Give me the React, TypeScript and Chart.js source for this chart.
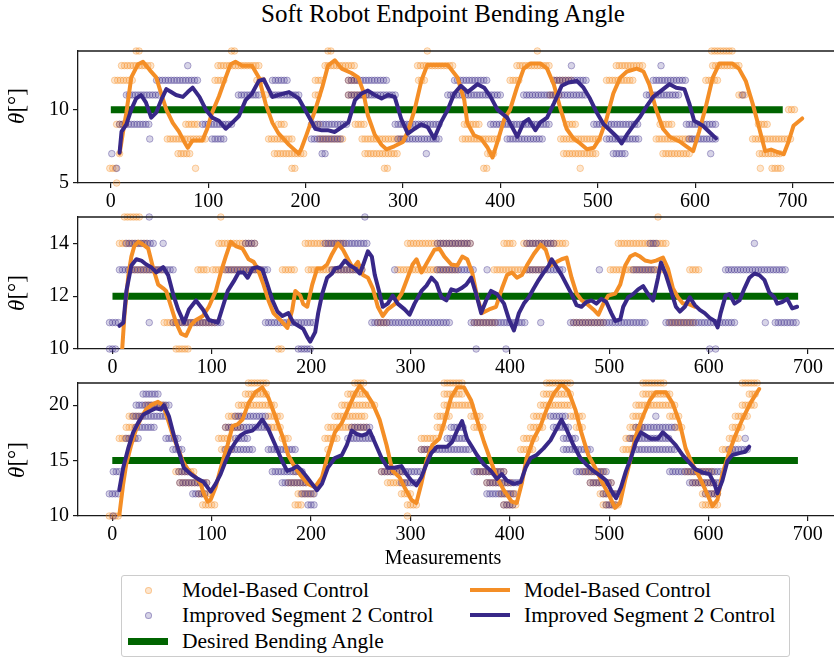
import React, { useEffect, useRef } from "react";
import { Chart, registerables } from "chart.js";

Chart.register(...registerables);

type Pt = [number, number];
type Run = [number, number, number]; // [level, xStart, xEnd] run of dots at an integer level

const FONT = '"Liberation Serif", serif';
Chart.defaults.font.family = FONT;

const TITLE = "Soft Robot Endpoint Bending Angle";
const X_LABEL = "Measurements";
const X_TICKS = [0, 100, 200, 300, 400, 500, 600, 700];
const S1_Y_TICKS = [5, 10];
const S2_Y_TICKS = [10, 12, 14];
const S3_Y_TICKS = [10, 15, 20];
const TARGETS = [10, 12, 15];
const TARGET_SPAN = [0, 690];
const LEGEND_LABELS = [
  "Model-Based Control",
  "Improved Segment 2 Control",
  "Desired Bending Angle",
  "Model-Based Control",
  "Improved Segment 2 Control",
];

// ---------- Subplot 1 ----------
const S1_MODEL_LINE: Pt[] = [
  [9, 7], [12.6, 8.5], [16, 9.8], [21, 12.2], [28, 13.1], [33, 13.26], [40, 12.7], [46.6, 12.2],
  [51.7, 11.1], [57, 10], [63.6, 9.1], [70, 8.5], [75.5, 7.8], [79, 7.4], [84, 7.9], [94, 7.9],
  [99, 8.7], [104, 9.8], [111, 10.9], [118, 12.2], [123, 13.1], [128, 13.26], [135, 13.0], [145, 13.0],
  [152, 12.2], [159, 10.4], [166, 9.1], [172, 8.4], [183, 7.6], [193, 7.0], [196, 7.4], [201, 8.3],
  [210, 10], [217, 11.5], [223, 13.0], [230, 13.37], [237, 12.8], [247, 12.5], [254, 12.2], [259, 11.3],
  [264, 9.6], [271, 8.3], [278, 7.6], [283, 7.3], [291, 7.5], [300, 7.8], [305, 8.5], [312, 10],
  [319, 12], [325, 13.04], [339, 13.04], [346, 13.04], [356, 12.2], [363, 10.65], [366, 9.1], [373, 8.26],
  [380, 8.04], [387, 7.4], [392, 6.74], [397, 7.8], [404, 9.35], [410, 10], [417, 11.5], [424, 12.8],
  [431, 13.15], [441, 13.15], [448, 12.8], [455, 11.7], [462, 10], [468, 8.7], [475, 8.04], [482, 7.7],
  [489, 7.3], [496, 7.4], [502, 8.04], [509, 9.35], [516, 11.1], [523, 12.17], [530, 12.6], [540, 12.8],
  [547, 12.6], [553, 11.7], [560, 10], [567, 8.7], [574, 8.15], [584, 7.83], [591, 7.5], [598, 7.17],
  [604, 8.48], [611, 10.2], [618, 12.17], [625, 13.15], [638, 13.15], [645, 12.8], [652, 11.96], [659, 10.43],
  [666, 8.7], [672, 7.17], [678, 7.28], [686, 7.07], [691, 6.96], [696, 7.83], [701, 8.9], [710, 9.4],
];
const S1_IMPROVED_LINE: Pt[] = [
  [9, 7.07], [11, 8.5], [16, 9.0], [21, 10], [26, 10.76], [31, 11], [36, 10.5], [41.5, 9.46],
  [46.6, 9.8], [51.7, 10.65], [57, 11.4], [62, 11.2], [67, 11], [74, 10.87], [79, 11.2], [84, 11.5],
  [91, 10.87], [97.6, 10], [104, 9.46], [111, 9.24], [118, 8.7], [123, 9], [131.6, 9.57], [138.4, 10.65],
  [145, 11.1], [152, 11.96], [157, 12.07], [166, 10.87], [172, 11], [183, 11.2], [193, 10.76], [203, 9.57],
  [210, 8.7], [216.7, 8.59], [223.5, 8.59], [230, 8.48], [237, 8.8], [244, 9.13], [250.7, 10.65], [257.5, 11.1],
  [264, 11.3], [271, 11], [278, 10.76], [284.7, 11], [291.5, 10.87], [298.3, 9.35], [305, 8.37], [312, 8.7],
  [318.7, 9], [325.5, 8.8], [332, 8.04], [339, 9.13], [346, 10], [352.7, 11.1], [359.5, 11.63], [366.4, 11.2],
  [376.6, 11.74], [383.4, 11.5], [390, 10.87], [397, 10], [407, 9.46], [417.4, 8.15], [424, 9.13], [429, 9.35],
  [436, 8.6], [441, 9.13], [448, 9.46], [455, 10.43], [463, 11.63], [470, 11.85], [478.6, 11.96], [485.4, 11.5],
  [492, 10.76], [499, 9.8], [506, 9], [512.6, 8.6], [519.5, 8.15], [524.5, 7.7], [529.6, 8.26], [536.4, 8.9],
  [543, 9.46], [550, 10.2], [557, 10.87], [565.3, 11.3], [573.8, 11.74], [580.6, 11.5], [589, 11.4], [594, 10.43],
  [599, 9.24], [608, 8.9], [614.6, 8.48], [621.5, 8.04],
];
const S1_MODEL_DOTS: Run[] = [
  [14, 26, 30], [14, 124, 129], [14, 223, 228], [14, 325, 326], [14, 438, 440], [14, 617, 638],
  [13, 11, 43], [13, 110, 152], [13, 220, 250], [13, 315, 353], [13, 417, 451], [13, 519, 547], [13, 618, 645],
  [12, 4, 23], [12, 107, 118], [12, 150, 156], [12, 210, 217], [12, 244, 254], [12, 316, 322], [12, 410, 421],
  [12, 455, 475], [12, 509, 536], [12, 611, 625],
  [11, 159, 160], [11, 210, 214], [11, 244, 264], [11, 451, 462], [11, 645, 652],
  [10, 696, 703],
  [9, 6, 16], [9, 77, 91], [9, 172, 179], [9, 213, 214], [9, 251, 261], [9, 363, 380], [9, 468, 478],
  [9, 564, 577], [9, 665, 675],
  [8, 58, 98], [8, 162, 186], [8, 214, 240], [8, 258, 302], [8, 361, 397], [8, 462, 502], [8, 560, 598], [8, 659, 700],
  [7, 9, 10], [7, 69, 82], [7, 168, 200], [7, 261, 295], [7, 387, 394], [7, 465, 499], [7, 567, 594], [7, 666, 689],
  [6, -1, 6], [6, 87, 88], [6, 186, 190], [6, 281, 285], [6, 383, 388], [6, 482, 483], [6, 667, 668], [6, 679, 688],
  [5, 6, 7],
];
const S1_IMPROVED_DOTS: Run[] = [
  [13, 79, 80], [13, 473, 474], [13, 565, 566],
  [12, 47, 91], [12, 166, 183], [12, 244, 285], [12, 353, 387], [12, 455, 489], [12, 557, 591],
  [11, 16, 50], [11, 131, 152], [11, 166, 193], [11, 244, 292], [11, 346, 400], [11, 424, 489], [11, 550, 584], [11, 649, 650],
  [9, 9, 40], [9, 94, 125], [9, 206, 244], [9, 292, 339], [9, 390, 451], [9, 496, 543], [9, 591, 621],
  [8, 40, 41], [8, 104, 118], [8, 206, 237], [8, 295, 339], [8, 407, 445], [8, 509, 543], [8, 594, 621],
  [7, 1, 2], [7, 217, 220], [7, 324, 325], [7, 516, 530], [7, 616, 617],
  [6, 6, 7],
];

// ---------- Subplot 2 ----------
const S2_MODEL_LINE: Pt[] = [
  [8, 9.0], [12, 11.25], [16, 12.8], [19, 13.5], [22, 13.9], [26, 14.06], [31, 13.95], [36, 13.8],
  [41, 13.05], [46, 12.44], [51, 12.3], [54, 12.2], [59, 11.6], [64, 11], [69, 10.58], [74, 10.5],
  [79, 10.9], [84, 11.1], [91, 11.25], [97, 11.6], [104, 12.2], [109, 12.9], [114, 13.5], [119, 14.06],
  [124, 13.9], [131, 13.8], [137, 13.4], [142, 13.3], [146, 13.05], [152, 12.44], [157, 11.84], [162, 11.36],
  [169, 11.1], [176, 10.8], [181, 11.5], [184, 12.2], [189, 12.02], [192, 11.7], [196, 11.6], [201, 12.44],
  [206, 13.05], [211, 13.05], [216, 13.2], [221, 13.6], [227, 14.0], [232, 13.76], [237, 13.4], [242, 13.05],
  [247, 13.3], [252, 12.8], [257, 12.7], [262, 12.3], [267, 11.6], [272, 11.25], [277, 11.5], [284, 11.7],
  [291, 12.1], [297, 12.7], [302, 13.2], [306, 13.4], [311, 12.9], [317, 13.3], [324, 13.76], [329, 13.8],
  [334, 13.5], [341, 13.2], [347, 13.16], [352, 13.5], [357, 13.4], [362, 12.9], [367, 11.96], [372, 11.36],
  [379, 11.5], [386, 11.6], [392, 12.3], [397, 12.8], [402, 12.9], [407, 12.7], [412, 12.8], [417, 13.16],
  [424, 13.6], [431, 13.95], [436, 13.76], [441, 13.16], [447, 13.3], [452, 13.4], [457, 13.46], [462, 12.7],
  [467, 12.1], [472, 11.85], [479, 11.66], [484, 11.5], [489, 11.3], [494, 11.72], [499, 12.02], [506, 12.1],
  [511, 12.44], [516, 13.16], [521, 13.5], [526, 13.6], [531, 13.5], [536, 13.35], [542, 13.3], [547, 13.35],
  [554, 13.46], [559, 13.05], [564, 12.3], [569, 11.96], [574, 11.72], [579, 11.72], [586, 11.6],
];
const S2_IMPROVED_LINE: Pt[] = [
  [7, 10.88], [11, 11], [14, 12.2], [19, 13.16], [24, 13.4], [29, 13.35], [34, 13.2], [39, 13.1],
  [44, 12.9], [51, 13.1], [56, 12.8], [61, 12.08], [66, 11.5], [72, 11], [77, 11.5], [84, 11.84],
  [91, 11.5], [97, 11.1], [106, 11], [111, 11.6], [116, 12.2], [122, 12.56], [127, 12.9], [132, 12.9],
  [136, 12.7], [141, 13.05], [146, 13.1], [151, 13], [156, 12.44], [161, 11.84], [166, 11.42], [171, 11.25],
  [177, 11.36], [182, 11], [187, 10.88], [192, 10.76], [196, 10.46], [199, 10.28], [204, 10.64], [207, 11.36],
  [211, 12.08], [216, 12.7], [221, 12.86], [224, 13.05], [229, 13.1], [234, 13.35], [239, 13.16], [244, 13.05],
  [249, 12.86], [252, 13.16], [257, 13.7], [261, 13.5], [264, 12.8], [269, 12.08], [272, 11.6], [277, 11.72],
  [282, 12.02], [287, 11.72], [294, 11.5], [299, 11.3], [304, 11.72], [311, 12.2], [316, 12.4], [321, 12.7],
  [326, 12.5], [331, 11.96], [336, 11.84], [341, 12.26], [346, 12.2], [351, 12.3], [356, 12.44], [361, 12.7],
  [366, 12.08], [371, 11.36], [376, 11.84], [381, 12.2], [387, 12.08], [394, 11.72], [399, 11.12], [404, 10.7],
  [409, 11.36], [414, 11.72], [419, 11.96], [424, 12.3], [429, 12.62], [434, 12.9], [439, 13.16], [442, 13.4],
  [447, 13.1], [452, 12.8], [457, 12.44], [462, 12.08], [467, 11.66], [472, 11.6], [477, 11.78], [482, 11.84],
  [487, 11.72], [492, 11.9], [497, 11.78], [502, 11.36], [506, 11.06], [511, 11.12], [514, 11.6], [519, 11.96],
  [524, 12.08], [529, 12.26], [534, 12.38], [539, 12.08], [544, 11.84], [549, 12.7], [552, 13.28], [557, 12.8],
  [562, 12.2], [567, 11.6], [571, 11.42], [576, 11.6], [581, 11.96], [586, 11.66], [591, 11.48], [596, 11.36],
  [601, 11.18], [606, 11.06], [609, 10.82], [612, 11.36], [617, 12.02], [621, 12.08], [626, 11.72], [631, 11.84],
  [636, 12.3], [641, 12.7], [646, 12.86], [651, 12.8], [656, 12.62], [661, 12.14], [666, 11.96], [669, 11.72],
  [674, 11.78], [679, 11.9], [684, 11.54], [689, 11.6],
];
const S2_MODEL_DOTS: Run[] = [
  [15, 12, 27], [15, 109, 110], [15, 549, 550],
  [14, 7, 34], [14, 107, 144], [14, 194, 234], [14, 297, 361], [14, 394, 404], [14, 414, 457], [14, 509, 557],
  [13, 17, 51], [13, 86, 97], [13, 101, 151], [13, 171, 184], [13, 197, 251], [13, 287, 347], [13, 384, 437],
  [13, 501, 557], [13, 581, 591],
  [11, 52, 104], [11, 267, 277], [11, 364, 387], [11, 464, 494], [11, 561, 587],
  [10, 64, 77], [10, 167, 171],
];
const S2_IMPROVED_DOTS: Run[] = [
  [15, 37, 38], [15, 254, 255],
  [14, 14, 41], [14, 51, 52], [14, 134, 144], [14, 214, 257], [14, 327, 361], [14, 417, 444], [14, 541, 547], [14, 646, 647],
  [13, 7, 61], [13, 114, 157], [13, 221, 251], [13, 284, 285], [13, 327, 364], [13, 377, 378], [13, 417, 454],
  [13, 490, 491], [13, 524, 547], [13, 617, 677],
  [11, -3, 7], [11, 37, 38], [11, 61, 111], [11, 154, 204], [11, 261, 341], [11, 361, 417], [11, 431, 432],
  [11, 461, 537], [11, 557, 627], [11, 657, 658], [11, 667, 689],
  [10, -3, 4], [10, 187, 201], [10, 366, 367], [10, 396, 397], [10, 601, 602], [10, 607, 608],
];

// ---------- Subplot 3 ----------
const S3_MODEL_LINE: Pt[] = [
  [7, 10], [11, 12.9], [14, 14.65], [19, 16.4], [24, 17.84], [29, 18.86], [34, 19.6], [39, 20.0],
  [46, 20.3], [51, 20], [56, 18.7], [61, 17.26], [66, 16.1], [71, 14.94], [77, 14.07], [84, 13.5],
  [89, 12.9], [92, 12.04], [96, 11.3], [99, 11.46], [104, 12.6], [111, 14.94], [116, 16.4], [121, 18.1],
  [126, 18.27], [131, 18.7], [137, 20.16], [144, 21.17], [151, 21.6], [157, 20.7], [164, 19], [171, 17.26],
  [177, 15.5], [184, 14.36], [191, 13.5], [197, 12.9], [204, 12.6], [211, 13.5], [217, 15.5], [224, 17.55],
  [231, 18.4], [237, 19.6], [244, 21], [249, 21.75], [256, 21], [262, 20.16], [269, 18.7], [276, 16.4],
  [282, 14.07], [289, 13.5], [294, 12.6], [301, 11.46], [306, 11.17], [311, 12.9], [316, 14.94], [322, 16.4],
  [329, 16.97], [334, 18.4], [341, 20.7], [347, 21.6], [354, 21.6], [361, 20.45], [367, 18.7], [374, 16.7],
  [381, 14.94], [387, 13.5], [394, 12.33], [402, 11.3], [407, 11.17], [412, 12.9], [417, 15.23], [424, 16.97],
  [431, 18.13], [437, 19.6], [444, 21], [452, 21.9], [459, 21.3], [466, 19.6], [472, 17.55], [479, 15.5],
  [486, 14.36], [492, 13.2], [499, 12.04], [506, 10.74], [511, 11.17], [516, 13.2], [521, 14.94], [527, 17.26],
  [534, 19], [541, 20.45], [547, 21.17], [557, 21.17], [564, 20.16], [571, 18.4], [577, 16.1], [584, 14.65],
  [591, 13.5], [597, 12.33], [604, 10.88], [609, 11.46], [614, 13.78], [621, 15.8], [627, 17.26], [634, 18.7],
  [642, 20.16], [651, 21.46],
];
const S3_IMPROVED_LINE: Pt[] = [
  [7, 12.33], [11, 14.36], [16, 16.1], [21, 17.55], [26, 18.4], [31, 19.14], [37, 19.43], [44, 19.72],
  [49, 19.6], [52, 20], [57, 19], [62, 17.26], [67, 15.8], [72, 14.36], [79, 13.78], [86, 13.35],
  [92, 13.06], [99, 12.2], [104, 12.9], [109, 13.78], [114, 14.94], [119, 15.96], [124, 16.68], [129, 17.26],
  [134, 17.55], [141, 17.7], [146, 18.13], [151, 18.7], [157, 17.84], [164, 16.4], [171, 14.94], [176, 14.07],
  [181, 14.22], [186, 14.5], [191, 14.07], [196, 13.5], [201, 12.9], [206, 12.33], [211, 12.9], [217, 14.36],
  [224, 15.23], [231, 15.5], [236, 16.4], [241, 17.7], [246, 17.4], [251, 17.26], [256, 17.4], [259, 17.7],
  [264, 16.68], [271, 15.23], [277, 14.36], [284, 14.36], [291, 14.5], [296, 13.78], [301, 13.2], [306, 12.77],
  [311, 13.5], [316, 14.65], [321, 15.67], [327, 16.25], [337, 16.25], [342, 16.68], [347, 17.7], [352, 18.56],
  [357, 16.97], [362, 16.25], [367, 15.5], [374, 14.65], [381, 14.07], [387, 13.35], [392, 13.78], [397, 13.2],
  [404, 12.9], [411, 13.06], [416, 14.36], [421, 15.23], [427, 15.5], [434, 16.1], [441, 16.83], [447, 17.84],
  [452, 18.7], [457, 17.84], [464, 16.4], [471, 15.23], [477, 14.65], [484, 14.07], [491, 13.64], [497, 13.2],
  [502, 12.33], [507, 11.6], [512, 12.6], [517, 14.07], [522, 15.23], [527, 16.68], [532, 17.55], [537, 17.26],
  [542, 16.97], [549, 16.97], [554, 17.55], [561, 16.97], [567, 16.4], [574, 15.5], [581, 14.8], [587, 14.2],
  [594, 13.93], [601, 13.78], [606, 12.9], [609, 12.04], [614, 13.2], [619, 14.94], [624, 15.5], [631, 15.67],
  [637, 15.8], [641, 16.25],
];
const S3_MODEL_DOTS: Run[] = [
  [22, 137, 157], [22, 244, 254], [22, 334, 354], [22, 437, 461], [22, 534, 557], [22, 634, 651],
  [21, 134, 157], [21, 237, 257], [21, 334, 354], [21, 434, 461], [21, 534, 561], [21, 641, 647],
  [20, 34, 54], [20, 127, 164], [20, 231, 264], [20, 334, 361], [20, 431, 461], [20, 527, 567], [20, 634, 647],
  [19, 17, 31], [19, 117, 131], [19, 157, 171], [19, 224, 254], [19, 327, 341], [19, 361, 371], [19, 424, 437],
  [19, 461, 474], [19, 524, 534], [19, 561, 571], [19, 627, 641],
  [18, 14, 24], [18, 114, 131], [18, 157, 171], [18, 217, 257], [18, 327, 334], [18, 364, 374], [18, 421, 434],
  [18, 467, 474], [18, 521, 534], [18, 567, 574], [18, 624, 634],
  [17, 7, 24], [17, 107, 121], [17, 171, 177], [17, 214, 227], [17, 311, 327], [17, 414, 427], [17, 517, 527], [17, 621, 631],
  [16, 110, 121], [16, 217, 218], [16, 311, 324], [16, 411, 424], [16, 514, 524], [16, 614, 624],
  [14, 64, 84], [14, 184, 185], [14, 271, 294], [14, 367, 394], [14, 474, 497], [14, 577, 604],
  [13, 68, 97], [13, 177, 197], [13, 277, 297], [13, 377, 401], [13, 481, 504], [13, 584, 607],
  [12, 87, 101], [12, 187, 204], [12, 291, 301], [12, 391, 407], [12, 491, 507], [12, 594, 611],
  [11, 91, 104], [11, 184, 191], [11, 297, 307], [11, 394, 407], [11, 494, 511], [11, 594, 611],
  [10, -3, 7], [10, 297, 298],
];
const S3_IMPROVED_DOTS: Run[] = [
  [21, 31, 47],
  [20, 24, 57],
  [19, 21, 54], [19, 124, 154], [19, 441, 457], [19, 547, 548],
  [18, 24, 44], [18, 114, 157], [18, 241, 261], [18, 341, 354], [18, 444, 461], [18, 527, 567],
  [17, 14, 27], [17, 54, 67], [17, 124, 137], [17, 237, 261], [17, 337, 357], [17, 454, 467], [17, 521, 561], [17, 637, 638],
  [16, 61, 71], [16, 114, 141], [16, 157, 184], [16, 311, 361], [16, 454, 481], [16, 527, 567], [16, 621, 641],
  [14, 1, 7], [14, 67, 77], [14, 161, 191], [14, 271, 311], [14, 364, 394], [14, 467, 497], [14, 561, 614],
  [13, 68, 97], [13, 171, 197], [13, 291, 307], [13, 377, 411], [13, 481, 504], [13, 581, 611],
  [12, -3, 7], [12, 81, 94], [12, 191, 204], [12, 377, 404], [12, 494, 511], [12, 597, 611],
  [11, 197, 204], [11, 394, 404], [11, 497, 507],
  [10, 1, 2],
];

// ---------- styling ----------
const ORANGE = "rgb(244,142,38)";
const PURPLE = "rgb(56,40,136)";
const GREEN = "rgb(0,100,0)";
const ORANGE_DOT_FILL = "rgba(244,142,38,0.22)";
const ORANGE_DOT_EDGE = "rgba(244,142,38,0.38)";
const PURPLE_DOT_FILL = "rgba(56,40,136,0.2)";
const PURPLE_DOT_EDGE = "rgba(56,40,136,0.36)";
const AXIS = "#1a1a1a";
const TEXT = "#000";

const CANVAS_W = 870;
const PAD_TOP = 10;
const X_AXIS_H = 30;
const Y_AXIS_W = 78;

function runsToPoints(runs: Run[]) {
  const pts: { x: number; y: number }[] = [];
  for (const [lvl, a, b] of runs) {
    if (b - a <= 1) {
      pts.push({ x: a, y: lvl });
      continue;
    }
    for (let x = a; x <= b; x += 3) pts.push({ x, y: lvl });
  }
  return pts;
}
const toXY = (pts: Pt[]) => pts.map(([x, y]) => ({ x, y }));

interface PanelSpec {
  top: number;
  plotH: number;
  xMin: number;
  xMax: number;
  yMin: number;
  yMax: number;
  yTicks: number[];
  target: number;
  modelLine: Pt[];
  improvedLine: Pt[];
  modelDots: Run[];
  improvedDots: Run[];
}

const PANELS: PanelSpec[] = [
  {
    top: 45, plotH: 138, xMin: -33.7, xMax: -33.7 + (CANVAS_W - Y_AXIS_W) / 0.98,
    yMin: 5, yMax: 14, yTicks: S1_Y_TICKS, target: TARGETS[0],
    modelLine: S1_MODEL_LINE, improvedLine: S1_IMPROVED_LINE,
    modelDots: S1_MODEL_DOTS, improvedDots: S1_IMPROVED_DOTS,
  },
  {
    top: 211, plotH: 138, xMin: -34.7, xMax: -34.7 + (CANVAS_W - Y_AXIS_W),
    yMin: 10, yMax: 15, yTicks: S2_Y_TICKS, target: TARGETS[1],
    modelLine: S2_MODEL_LINE, improvedLine: S2_IMPROVED_LINE,
    modelDots: S2_MODEL_DOTS, improvedDots: S2_IMPROVED_DOTS,
  },
  {
    top: 377, plotH: 139, xMin: -34.5, xMax: -34.5 + (CANVAS_W - Y_AXIS_W),
    yMin: 10, yMax: 22, yTicks: S3_Y_TICKS, target: TARGETS[2],
    modelLine: S3_MODEL_LINE, improvedLine: S3_IMPROVED_LINE,
    modelDots: S3_MODEL_DOTS, improvedDots: S3_IMPROVED_DOTS,
  },
];

const topSpine = {
  id: "topSpine",
  afterDraw(chart: any) {
    const { ctx, chartArea } = chart;
    ctx.save();
    ctx.strokeStyle = AXIS;
    ctx.lineWidth = 1.3;
    ctx.beginPath();
    ctx.moveTo(chartArea.left, chartArea.top);
    ctx.lineTo(chartArea.right, chartArea.top);
    ctx.stroke();
    ctx.restore();
  },
};

function Panel({ spec }: { spec: PanelSpec }) {
  const ref = useRef<HTMLCanvasElement>(null);
  useEffect(() => {
    if (!ref.current) return;
    const tickFont = { family: FONT, size: 20 };
    const chart = new Chart(ref.current, {
      type: "scatter",
      data: {
        datasets: [
          {
            label: LEGEND_LABELS[0],
            data: runsToPoints(spec.modelDots),
            pointRadius: 3.3,
            pointBackgroundColor: ORANGE_DOT_FILL,
            pointBorderColor: ORANGE_DOT_EDGE,
            pointBorderWidth: 1,
            order: 5,
            clip: false,
          },
          {
            label: LEGEND_LABELS[1],
            data: runsToPoints(spec.improvedDots),
            pointRadius: 3.3,
            pointBackgroundColor: PURPLE_DOT_FILL,
            pointBorderColor: PURPLE_DOT_EDGE,
            pointBorderWidth: 1,
            order: 4,
            clip: false,
          },
          {
            label: LEGEND_LABELS[2],
            data: [
              { x: TARGET_SPAN[0], y: spec.target },
              { x: TARGET_SPAN[1], y: spec.target },
            ],
            showLine: true,
            borderColor: GREEN,
            borderWidth: 7,
            pointRadius: 0,
            borderCapStyle: "butt",
            order: 3,
          },
          {
            label: LEGEND_LABELS[3],
            data: toXY(spec.modelLine),
            showLine: true,
            borderColor: ORANGE,
            borderWidth: 4,
            pointRadius: 0,
            borderJoinStyle: "round",
            borderCapStyle: "round",
            order: 2,
          },
          {
            label: LEGEND_LABELS[4],
            data: toXY(spec.improvedLine),
            showLine: true,
            borderColor: PURPLE,
            borderWidth: 4,
            pointRadius: 0,
            borderJoinStyle: "round",
            borderCapStyle: "round",
            order: 1,
          },
        ],
      },
      options: {
        animation: false,
        responsive: false,
        maintainAspectRatio: false,
        devicePixelRatio: 1,
        events: [],
        layout: { padding: { top: PAD_TOP, left: 0, right: 0, bottom: 0 } },
        plugins: { legend: { display: false }, tooltip: { enabled: false } },
        scales: {
          x: {
            type: "linear",
            min: spec.xMin,
            max: spec.xMax,
            afterBuildTicks: (s: any) => {
              s.ticks = X_TICKS.map((v) => ({ value: v }));
            },
            afterFit: (s: any) => {
              s.height = X_AXIS_H;
            },
            grid: { display: true, drawOnChartArea: false, drawTicks: true, tickLength: 5, color: AXIS, lineWidth: 1.2 },
            border: { display: true, color: AXIS, width: 1.3 },
            ticks: { font: tickFont, color: TEXT, padding: 2, maxRotation: 0, autoSkip: false, callback: (v: any) => String(v) },
          },
          y: {
            type: "linear",
            min: spec.yMin,
            max: spec.yMax,
            afterBuildTicks: (s: any) => {
              s.ticks = spec.yTicks.map((v) => ({ value: v }));
            },
            afterFit: (s: any) => {
              s.width = Y_AXIS_W;
            },
            grid: { display: true, drawOnChartArea: false, drawTicks: true, tickLength: 5, color: AXIS, lineWidth: 1.2 },
            border: { display: true, color: AXIS, width: 1.3 },
            ticks: { font: tickFont, color: TEXT, padding: 4, callback: (v: any) => String(v) },
          },
        },
      },
      plugins: [topSpine],
    } as any);
    return () => chart.destroy();
  }, [spec]);
  const h = PAD_TOP + spec.plotH + X_AXIS_H;
  return (
    <canvas
      ref={ref}
      width={CANVAS_W}
      height={h}
      style={{ position: "absolute", left: 0, top: spec.top - PAD_TOP, width: CANVAS_W, height: h }}
    />
  );
}

const Y_LABEL_CENTERS = [106, 293, 460];

function YLabel({ cy }: { cy: number }) {
  return (
    <div
      style={{
        position: "absolute",
        left: 17 - 40,
        top: cy - 14,
        width: 80,
        height: 28,
        lineHeight: "28px",
        textAlign: "center",
        transform: "rotate(-90deg)",
        fontFamily: FONT,
        fontSize: 23,
        color: TEXT,
        whiteSpace: "nowrap",
      }}
    >
      <span style={{ fontStyle: "italic" }}>θ</span>[°]
    </div>
  );
}

const LEGEND_FONT = 21.5;

function LegendRow({ x, cy, kind, color, label }: { x: number; cy: number; kind: "dot" | "line"; color: string; label: string }) {
  return (
    <>
      {kind === "dot" ? (
        <div
          style={{
            position: "absolute",
            left: x + 20 - 3.5,
            top: cy - 3.5,
            width: 7,
            height: 7,
            borderRadius: "50%",
            boxSizing: "border-box",
            background: color === "orange" ? ORANGE_DOT_FILL : PURPLE_DOT_FILL,
            border: `1px solid ${color === "orange" ? ORANGE_DOT_EDGE : PURPLE_DOT_EDGE}`,
          }}
        />
      ) : (
        <div
          style={{
            position: "absolute",
            left: x,
            top: cy - (color === GREEN ? 3.5 : 2),
            width: 40,
            height: color === GREEN ? 7 : 4,
            background: color,
          }}
        />
      )}
      <div
        style={{
          position: "absolute",
          left: x + 54,
          top: cy - 13,
          height: 26,
          lineHeight: "26px",
          fontFamily: FONT,
          fontSize: LEGEND_FONT,
          color: TEXT,
          whiteSpace: "nowrap",
        }}
      >
        {label}
      </div>
    </>
  );
}

export default function App() {
  const rows = [590, 615, 641];
  return (
    <div
      style={{
        position: "absolute",
        left: 0,
        top: 0,
        width: 834,
        height: 659,
        overflow: "hidden",
        background: "#fff",
      }}
    >
      <div
        style={{
          position: "absolute",
          left: 0,
          width: 886,
          top: 0,
          height: 28,
          lineHeight: "28px",
          textAlign: "center",
          fontFamily: FONT,
          fontSize: 25,
          color: TEXT,
          whiteSpace: "nowrap",
        }}
      >
        {TITLE}
      </div>
      {PANELS.map((p, i) => (
        <Panel key={i} spec={p} />
      ))}
      {Y_LABEL_CENTERS.map((cy, i) => (
        <YLabel key={i} cy={cy} />
      ))}
      <div
        style={{
          position: "absolute",
          left: 0,
          width: 886,
          top: 545,
          height: 24,
          lineHeight: "24px",
          textAlign: "center",
          fontFamily: FONT,
          fontSize: 20,
          color: TEXT,
        }}
      >
        {X_LABEL}
      </div>
      <div
        style={{
          position: "absolute",
          left: 121,
          top: 575,
          width: 669,
          height: 82,
          boxSizing: "border-box",
          border: "1px solid #cccccc",
          borderRadius: 3,
          background: "rgba(255,255,255,0.8)",
        }}
      />
      <LegendRow x={128} cy={rows[0]} kind="dot" color="orange" label={LEGEND_LABELS[0]} />
      <LegendRow x={128} cy={rows[1]} kind="dot" color="purple" label={LEGEND_LABELS[1]} />
      <LegendRow x={128} cy={rows[2]} kind="line" color={GREEN} label={LEGEND_LABELS[2]} />
      <LegendRow x={470} cy={rows[0]} kind="line" color={ORANGE} label={LEGEND_LABELS[3]} />
      <LegendRow x={470} cy={rows[1]} kind="line" color={PURPLE} label={LEGEND_LABELS[4]} />
    </div>
  );
}
